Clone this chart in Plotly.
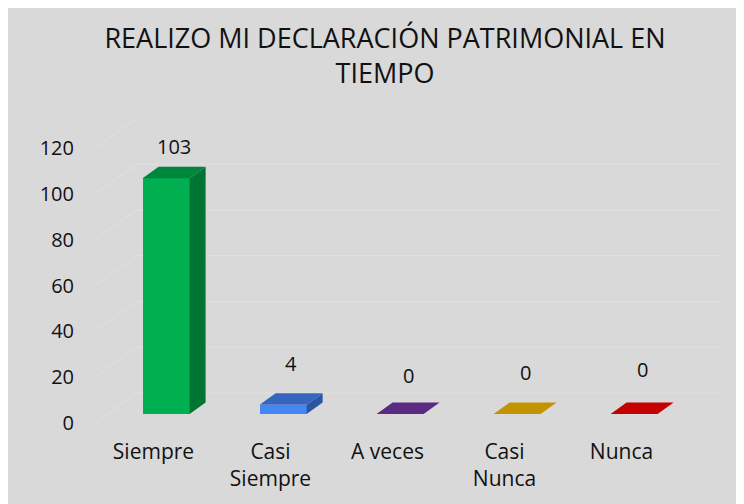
import plotly.graph_objects as go

# ---- data ----
categories = ["Siempre", "Casi<br>Siempre", "A veces", "Casi<br>Nunca", "Nunca"]
values = [103, 4, 0, 0, 0]
y_ticks = [0, 20, 40, 60, 80, 100, 120]

# ---- styles ----
front_colors = ["#00b050", "#4287f5", "#5b2a83", "#c49300", "#c40000"]
top_colors = ["#00853d", "#3565bf", "#5b2a83", "#c49300", "#c40000"]
side_colors = ["#007432", "#2b55a3", "#48206a", "#a07800", "#a00000"]
label_shift = [20, 30, 27, 30, 33]

W, H = 744, 504
ML, MR, MT, MB = 87, 30, 111, 89
PW, PH = W - ML - MR, H - MT - MB
X0, X1 = -0.5, 4.859
Y0, Y1 = 0, 132.8
ux = PW / (X1 - X0)   # px per x unit
uy = PH / (Y1 - Y0)   # px per y unit

# projection offsets (in px) converted to data units
wall_dx, wall_dy = 42 / ux, 30 / uy      # back wall depth
gap_dx, gap_dy = 12.6 / ux, 9 / uy       # bars set back from front
bar_dx, bar_dy = 16 / ux, 11.5 / uy      # bar depth
bar_w = 47 / ux

grid_color = "#e1e1e1"
font_family = "'Open Sans', Lato, sans-serif"
text_color = "#111111"

fig = go.Figure()

# back wall gridlines + side wall diagonals (shapes below data)
for v in y_ticks:
    fig.add_shape(type="path", xref="x", yref="y", layer="below",
                  path=f"M {X0},{v} L {X0 + wall_dx},{v + wall_dy} L {X1},{v + wall_dy}",
                  line=dict(color=grid_color, width=1))

# 3D bars: side and top faces
for i, v in enumerate(values):
    xl = i + gap_dx - bar_w / 2
    xr = i + gap_dx + bar_w / 2
    b = gap_dy
    t = v + gap_dy
    fig.add_trace(go.Scatter(
        x=[xr, xr, xr + bar_dx, xr + bar_dx, xr],
        y=[b, t, t + bar_dy, b + bar_dy, b],
        fill="toself", fillcolor=side_colors[i], mode="lines",
        line=dict(width=0, color=side_colors[i]),
        hoverinfo="skip", showlegend=False))
    fig.add_trace(go.Scatter(
        x=[xl, xr, xr + bar_dx, xl + bar_dx, xl],
        y=[t, t, t + bar_dy, t + bar_dy, t],
        fill="toself", fillcolor=top_colors[i], mode="lines",
        line=dict(width=0, color=top_colors[i]),
        hoverinfo="skip", showlegend=False))

# front faces
fig.add_trace(go.Bar(
    x=[i + gap_dx for i in range(len(values))], y=values,
    base=[gap_dy] * len(values), width=[bar_w] * len(values),
    marker=dict(color=front_colors, line=dict(width=0)),
    showlegend=False, hoverinfo="skip"))

# value labels
for i, v in enumerate(values):
    fig.add_annotation(
        x=i + gap_dx + bar_dx / 2, y=v + gap_dy + bar_dy,
        text=str(v), showarrow=False, yanchor="middle", yshift=label_shift[i],
        font=dict(size=20, color=text_color, family=font_family))

fig.update_layout(
    width=W, height=H,
    margin=dict(l=ML, r=MR, t=MT, b=MB),
    paper_bgcolor="#d9d9d9", plot_bgcolor="rgba(0,0,0,0)",
    font=dict(family=font_family, color=text_color, size=20),
    title=dict(text="REALIZO MI DECLARACIÓN PATRIMONIAL EN<br>TIEMPO",
               x=377 / W, xanchor="center", y=1 - 40 / H, yanchor="top",
               font=dict(size=27, family=font_family, color=text_color)),
    bargap=0,
    xaxis=dict(range=[X0, X1], tickvals=list(range(len(categories))),
               ticktext=categories, showgrid=False, zeroline=False,
               showline=False, ticks="", ticklabelstandoff=14,
               tickfont=dict(size=21)),
    yaxis=dict(range=[Y0, Y1], tickvals=y_ticks, showgrid=False,
               zeroline=False, showline=False, ticks="",
               ticklabelstandoff=20, tickfont=dict(size=20)),
)

fig.write_html("out.html")
